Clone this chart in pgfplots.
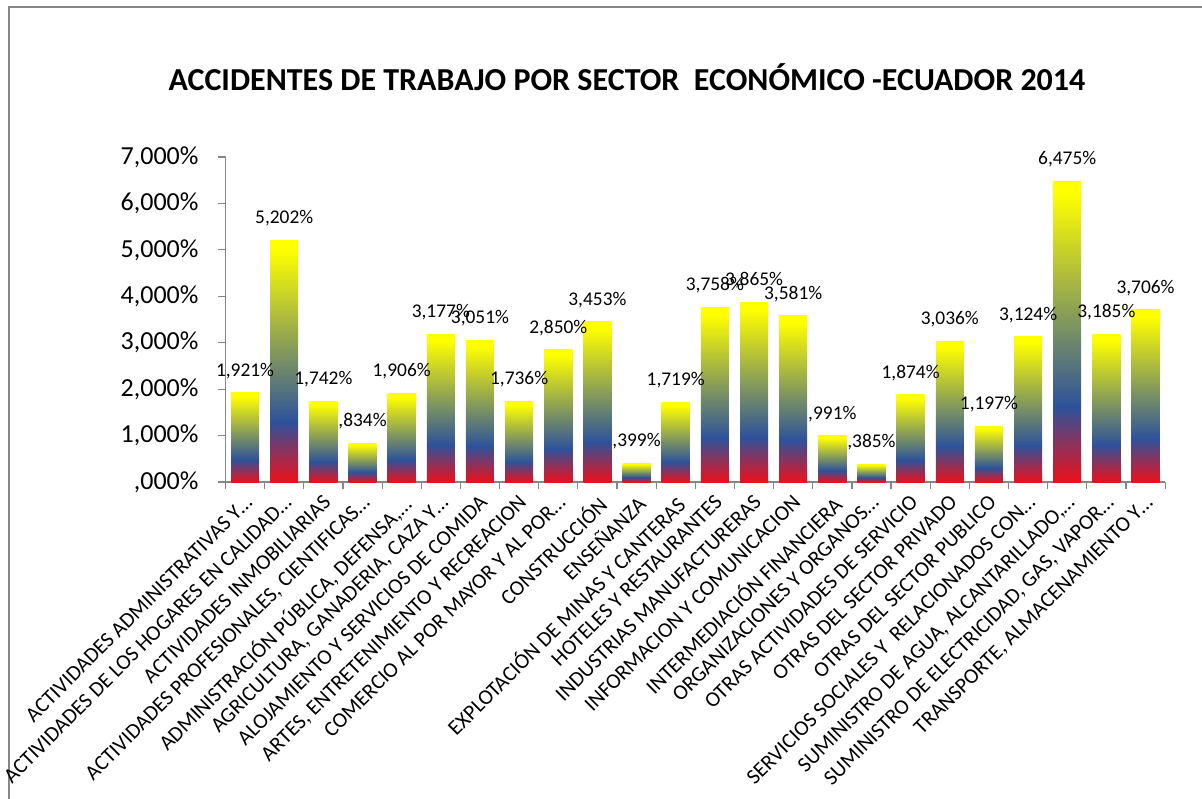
\documentclass[border=0pt]{standalone}
\usepackage{pgfplots}
\pgfplotsset{compat=1.18}
\usepackage{fontspec}
\setmainfont{Carlito}
\definecolor{ecred}{RGB}{237,16,26}
\definecolor{ecblue}{RGB}{45,82,155}
\definecolor{ecyellow}{RGB}{255,255,0}
\definecolor{axgray}{RGB}{134,134,134}
\pgfdeclareverticalshading{ecuador}{100bp}{color(0bp)=(ecred); color(25bp)=(ecred); color(37.5bp)=(ecblue); color(73bp)=(ecyellow); color(100bp)=(ecyellow)}
\pgfplotsset{ecbar/.style={ybar, bar width=14pt, bar shift=0pt, draw=none, shade, shading=ecuador}}
\begin{document}
\begin{tikzpicture}
\path[use as bounding box] (0pt,0pt) rectangle (601pt,399pt);
\draw[axgray, line width=0.6pt] (4.5pt,-10pt) -- (4.5pt,395.5pt) -- (615pt,395.5pt);
\node[font=\fontsize{16}{19}\selectfont\bfseries] at (313.5pt,360.5pt) {ACCIDENTES DE TRABAJO POR SECTOR\ \ ECONÓMICO -ECUADOR 2014};
\begin{axis}[
  at={(112.75pt,158pt)}, anchor=south west,
  scale only axis, width=469.8pt, height=162.5pt,
  xmin=-0.5, xmax=23.5, ymin=0, ymax=7,
  axis x line*=bottom, axis y line*=left,
  axis line style={axgray, line width=0.6pt, -},
  tick style={axgray, line width=0.6pt},
  tick align=outside,
  major tick length=3.5pt, minor tick length=3.5pt,
  ytick={0,1,...,7},
  yticklabels={{,000\%},{1,000\%},{2,000\%},{3,000\%},{4,000\%},{5,000\%},{6,000\%},{7,000\%}},
  yticklabel style={font=\fontsize{13}{15}\selectfont, text=black, xshift=-6.5pt},
  xtick={0,1,...,23},
  major x tick style={draw=none},
  minor xtick={-0.5,0.5,...,23.5},
  xticklabels={{ACTIVIDADES ADMINISTRATIVAS Y…},{ACTIVIDADES DE LOS HOGARES EN CALIDAD…},{ACTIVIDADES INMOBILIARIAS},{ACTIVIDADES PROFESIONALES, CIENTIFICAS…},{ADMINISTRACIÓN PÚBLICA, DEFENSA,…},{AGRICULTURA, GANADERIA, CAZA Y…},{ALOJAMIENTO Y SERVICIOS DE COMIDA},{ARTES, ENTRETENIMIENTO Y RECREACION},{COMERCIO AL POR MAYOR Y AL POR…},{CONSTRUCCIÓN},{ENSEÑANZA},{EXPLOTACIÓN DE MINAS Y CANTERAS},{HOTELES Y RESTAURANTES},{INDUSTRIAS MANUFACTURERAS},{INFORMACION Y COMUNICACION},{INTERMEDIACIÓN FINANCIERA},{ORGANIZACIONES Y ORGANOS…},{OTRAS ACTIVIDADES DE SERVICIO},{OTRAS DEL SECTOR PRIVADO},{OTRAS DEL SECTOR PUBLICO},{SERVICIOS SOCIALES Y\ \ RELACIONADOS CON…},{SUMINISTRO DE AGUA, ALCANTARILLADO,…},{SUMINISTRO DE ELECTRICIDAD, GAS, VAPOR…},{TRANSPORTE, ALMACENAMIENTO Y…}},
  xticklabel style={font=\fontsize{10.7}{12}\selectfont, rotate=45, anchor=north east, inner sep=1pt, text=black, xshift=-1pt},
  nodes near coords={\pgfplotspointmeta\%},
  point meta=explicit symbolic,
  every node near coord/.append style={font=\fontsize{9.7}{11}\selectfont, text=black, anchor=center, yshift=11pt},
  clip=false,
]
\addplot[ecbar] coordinates {(0,1.921) [1,921]};
\addplot[ecbar] coordinates {(1,5.202) [5,202]};
\addplot[ecbar] coordinates {(2,1.742) [1,742]};
\addplot[ecbar] coordinates {(3,0.834) [,834]};
\addplot[ecbar] coordinates {(4,1.906) [1,906]};
\addplot[ecbar] coordinates {(5,3.177) [3,177]};
\addplot[ecbar] coordinates {(6,3.051) [3,051]};
\addplot[ecbar] coordinates {(7,1.736) [1,736]};
\addplot[ecbar] coordinates {(8,2.850) [2,850]};
\addplot[ecbar] coordinates {(9,3.453) [3,453]};
\addplot[ecbar] coordinates {(10,0.399) [,399]};
\addplot[ecbar] coordinates {(11,1.719) [1,719]};
\addplot[ecbar] coordinates {(12,3.758) [3,758]};
\addplot[ecbar] coordinates {(13,3.865) [3,865]};
\addplot[ecbar] coordinates {(14,3.581) [3,581]};
\addplot[ecbar] coordinates {(15,0.991) [,991]};
\addplot[ecbar] coordinates {(16,0.385) [,385]};
\addplot[ecbar] coordinates {(17,1.874) [1,874]};
\addplot[ecbar] coordinates {(18,3.036) [3,036]};
\addplot[ecbar] coordinates {(19,1.197) [1,197]};
\addplot[ecbar] coordinates {(20,3.124) [3,124]};
\addplot[ecbar] coordinates {(21,6.475) [6,475]};
\addplot[ecbar] coordinates {(22,3.185) [3,185]};
\addplot[ecbar] coordinates {(23,3.706) [3,706]};
\end{axis}
\end{tikzpicture}
\end{document}
